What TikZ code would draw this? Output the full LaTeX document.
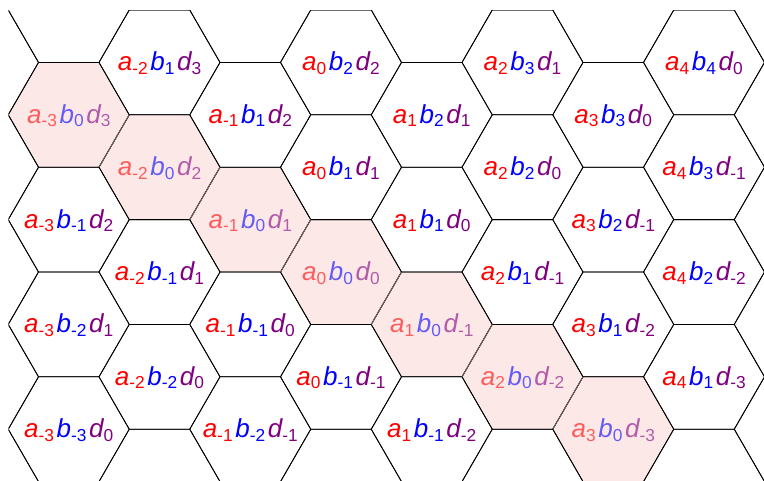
\documentclass[tikz,border=0pt]{standalone}
\usepackage{fontspec}
\setmainfont{Liberation Sans}
\definecolor{pk}{RGB}{253,232,232}
\definecolor{pur}{RGB}{128,0,128}
\definecolor{shedge}{RGB}{120,105,105}
\newcommand\sx[1]{\raisebox{-2.7pt}{\fontsize{13}{13}\selectfont\upshape #1}}
\newcommand\hexlbl[3]{{\color{red}\itshape a\sx{#1}}\hspace{2pt}{\color{blue}\itshape b\sx{#2}}\hspace{2pt}{\color{pur}\itshape d\sx{#3}}}
\def\hexshape{(60.5,0) -- (30.25,-52.4) -- (-30.25,-52.4) -- (-60.5,0) -- (-30.25,52.4) -- (30.25,52.4) -- cycle}
\begin{document}
\begin{tikzpicture}[x=0.75pt,y=-0.75pt,
  hexline/.style={line width=0.6pt, draw=black, line join=miter},
  pinkcell/.style={fill=pk},
  sharededge/.style={line width=0.6pt, draw=shedge},
  lbl/.style={inner sep=0pt, anchor=base, font=\fontsize{19.5}{22}\selectfont},
  plain/.style={},
  faded/.style={text opacity=0.6}]
\useasboundingbox (0,0) rectangle (764,480);
\begin{scope}
\clip (8.5,10.5) rectangle (766,482);
\foreach \a in {-3,...,3}{
  \path[pinkcell, shift={({341+90.75*\a},{272+52.4*\a})}] \hexshape;
}
\foreach \a in {-4,...,5}{
  \foreach \b in {-5,...,6}{
    \path[hexline, shift={({341+90.75*\a},{272+52.4*\a-104.8*\b})}] \hexshape;
  }
}
\foreach \a in {-3,...,2}{
  \path[sharededge, shift={({341+90.75*\a},{272+52.4*\a})}] (30.25,52.4) -- (60.5,0);
}
\end{scope}
\foreach \a/\bl in {-3/{0,-1,-2,-3}, -2/{1,0,-1,-2}, -1/{1,0,-1,-2}, 0/{2,1,0,-1}, 1/{2,1,0,-1}, 2/{3,2,1,0}, 3/{3,2,1,0}, 4/{4,3,2,1}}{
  \foreach \b in \bl {
    \pgfmathtruncatemacro\d{\b-\a}
    \pgfmathtruncatemacro\na{\a+5}
    \pgfmathtruncatemacro\nb{\b+5}
    \ifnum\b=0 \def\lop{faded}\else\def\lop{plain}\fi
    \node[lbl,\lop] (L\na x\nb) at ({341+90.75*\a},{272+52.4*\a-104.8*\b+8.5}) {\hexlbl{\a}{\b}{\d}};
  }
}
\end{tikzpicture}
\end{document}
